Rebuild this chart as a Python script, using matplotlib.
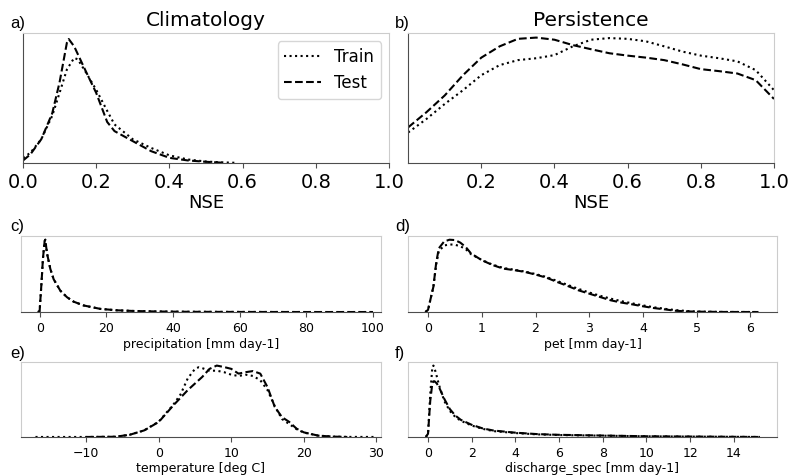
# -*- coding: utf-8 -*-
"""
NSE distributions for the two baselines (top row) and the distributions
of the forcing / target variables for train and test periods (bottom rows).
"""

import matplotlib
matplotlib.use("Agg")
import matplotlib.pyplot as plt

# --------------------------------------------------------------------------- #
# Density curves (relative units)
# --------------------------------------------------------------------------- #
clim_x_test = [0.0, 0.02, 0.05, 0.08, 0.10, 0.12, 0.125, 0.14, 0.17, 0.20,
               0.23, 0.25, 0.30, 0.35, 0.40, 0.45, 0.50, 0.55]
clim_y_test = [0.018, 0.067, 0.19, 0.40, 0.65, 0.97, 1.0, 0.94, 0.75, 0.565,
               0.33, 0.256, 0.175, 0.094, 0.04, 0.019, 0.008, 0.0]
clim_x_train = [0.0, 0.02, 0.05, 0.08, 0.10, 0.12, 0.14, 0.15, 0.17, 0.20,
                0.23, 0.25, 0.30, 0.35, 0.40, 0.45, 0.50, 0.55, 0.58]
clim_y_train = [0.04, 0.08, 0.19, 0.38, 0.565, 0.754, 0.848, 0.835, 0.74, 0.59,
                0.42, 0.31, 0.19, 0.12, 0.06, 0.027, 0.01, 0.003, 0.0]

pers_x = [0.0, 0.05, 0.10, 0.15, 0.20, 0.25, 0.30, 0.35, 0.40, 0.45, 0.50,
          0.55, 0.60, 0.65, 0.70, 0.75, 0.80, 0.85, 0.90, 0.95, 1.0]
pers_y_test = [0.283, 0.404, 0.538, 0.70, 0.84, 0.93, 0.99, 1.0, 0.983, 0.94,
               0.907, 0.875, 0.856, 0.84, 0.82, 0.786, 0.748, 0.732, 0.713,
               0.66, 0.51]
pers_y_train = [0.242, 0.35, 0.47, 0.58, 0.70, 0.78, 0.82, 0.835, 0.86, 0.93,
                0.983, 0.996, 0.99, 0.97, 0.93, 0.888, 0.856, 0.835, 0.81,
                0.74, 0.58]

prcp_x = [-0.5, 0.0, 0.5, 1.0, 1.5, 1.7, 2.2, 3.2, 4.2, 6.2, 8.2, 10.2, 13.2,
          18.2, 23.2, 28.2, 35.0, 45.0, 60.0, 80.0, 100.0]
prcp_y_train = [0.0, 0.014, 0.35, 0.72, 0.95, 0.97, 0.79, 0.58, 0.44, 0.287,
                0.199, 0.139, 0.088, 0.042, 0.023, 0.014, 0.007, 0.003,
                0.001, 0.0, 0.0]
prcp_y_test = [0.0, 0.014, 0.35, 0.72, 0.95, 0.97, 0.79, 0.58, 0.44, 0.287,
               0.199, 0.139, 0.088, 0.042, 0.023, 0.014, 0.007, 0.003,
               0.001, 0.0, 0.0]

pet_x = [-0.05, 0.0, 0.1, 0.15, 0.2, 0.3, 0.4, 0.5, 0.6, 0.7, 0.8, 1.0, 1.2,
         1.4, 1.6, 1.8, 2.0, 2.2, 2.4, 2.6, 2.8, 3.0, 3.2, 3.4, 3.6, 3.8,
         4.0, 4.2, 4.4, 4.6, 4.8, 5.0, 5.5, 6.15]
pet_y_test = [0.0, 0.03, 0.35, 0.67, 0.88, 0.976, 1.0, 0.995, 0.96, 0.90,
              0.81, 0.717, 0.65, 0.60, 0.58, 0.555, 0.518, 0.476, 0.416,
              0.36, 0.30, 0.254, 0.208, 0.162, 0.13, 0.106, 0.079, 0.055,
              0.037, 0.018, 0.009, 0.005, 0.001, 0.0]
pet_y_train = [0.0, 0.03, 0.35, 0.65, 0.84, 0.92, 0.935, 0.93, 0.91, 0.87,
               0.80, 0.72, 0.655, 0.61, 0.585, 0.56, 0.525, 0.485, 0.43,
               0.375, 0.32, 0.27, 0.225, 0.185, 0.15, 0.12, 0.092, 0.066,
               0.045, 0.027, 0.015, 0.007, 0.001, 0.0]

temp_x_test = [-10, -6, -4, -2, 0, 2, 4, 6, 7, 8, 9, 10, 11, 12, 13, 14, 15,
               16, 17, 18, 19, 20, 22, 24, 26]
temp_y_test = [0.0, 0.003, 0.03, 0.09, 0.205, 0.43, 0.64, 0.82, 0.93, 0.975,
               0.955, 0.93, 0.865, 0.885, 0.90, 0.865, 0.68, 0.41, 0.27,
               0.205, 0.114, 0.063, 0.018, 0.005, 0.0]
temp_x_train = [-17, -10, -6, -4, -2, 0, 2, 3, 4, 5, 5.5, 6, 7, 8, 9, 10, 11,
                12, 13, 14, 15, 16, 17, 18, 19, 20, 22, 24, 26, 30]
temp_y_train = [0.0, 0.0, 0.003, 0.03, 0.09, 0.21, 0.44, 0.58, 0.80, 0.93,
                0.952, 0.94, 0.905, 0.905, 0.885, 0.85, 0.833, 0.85, 0.833,
                0.775, 0.64, 0.42, 0.245, 0.175, 0.107, 0.06, 0.018, 0.005,
                0.001, 0.0]

q_x = [-0.1, 0.0, 0.1, 0.2, 0.25, 0.3, 0.4, 0.5, 0.75, 1.0, 1.25, 1.5, 2.0,
       2.5, 3.0, 4.0, 5.0, 6.0, 8.0, 10.0, 12.0, 15.2]
q_y_train = [0.0, 0.045, 0.59, 0.99, 1.0, 0.96, 0.85, 0.73, 0.50, 0.364,
             0.28, 0.227, 0.16, 0.114, 0.082, 0.055, 0.036, 0.027, 0.018,
             0.009, 0.005, 0.0]
q_y_test = [0.0, 0.045, 0.50, 0.76, 0.78, 0.78, 0.75, 0.70, 0.53, 0.39,
            0.30, 0.24, 0.17, 0.12, 0.09, 0.06, 0.04, 0.03, 0.02, 0.01,
            0.006, 0.0]

clim_ticks = [0.0, 0.2, 0.4, 0.6, 0.8, 1.0]
pers_ticks = [0.2, 0.4, 0.6, 0.8, 1.0]

DARK = "#4d4d4d"
LIGHT = "#cccccc"
LINE = dict(color="black", linewidth=1.5)


def style_axis(ax, left_dark, tick_size):
    ax.set_yticks([])
    ax.spines["top"].set_color(LIGHT)
    ax.spines["right"].set_color(LIGHT)
    ax.spines["bottom"].set_color(DARK)
    ax.spines["left"].set_color(DARK if left_dark else LIGHT)
    ax.tick_params(axis="x", labelsize=tick_size, color=DARK, length=3.5)
    ax.set_ylim(bottom=0)


fig = plt.figure(figsize=(7.91, 4.76), dpi=100)

# --------------------------------------------------------------------------- #
# Top row: NSE distributions
# --------------------------------------------------------------------------- #
ax_a = fig.add_axes([0.029, 0.658, 0.463, 0.273])
ax_a.plot(clim_x_train, clim_y_train, linestyle=":", label="Train", **LINE)
ax_a.plot(clim_x_test, clim_y_test, linestyle="--", label="Test", **LINE)
ax_a.set_xlim(0, 1)
ax_a.set_xticks(clim_ticks)
style_axis(ax_a, True, 14)
ax_a.set_xlabel("NSE", fontsize=13, labelpad=2)
ax_a.set_title("Climatology", fontsize=14.5, pad=5)
ax_a.legend(loc="upper right", fontsize=12, handlelength=2.2)

ax_b = fig.add_axes([0.516, 0.658, 0.4625, 0.273])
ax_b.plot(pers_x, pers_y_train, linestyle=":", **LINE)
ax_b.plot(pers_x, pers_y_test, linestyle="--", **LINE)
ax_b.set_xlim(0, 1)
ax_b.set_xticks(pers_ticks)
style_axis(ax_b, True, 14)
ax_b.set_xlabel("NSE", fontsize=13, labelpad=2)
ax_b.set_title("Persistence", fontsize=14.5, pad=5)

# --------------------------------------------------------------------------- #
# Input / target variable distributions
# --------------------------------------------------------------------------- #
panels = [
    ([0.0265, 0.3445, 0.4552, 0.1595], prcp_x, prcp_y_train, prcp_x, prcp_y_test,
     (-5.6, 102.4), [0, 20, 40, 60, 80, 100], "precipitation [mm day-1]"),
    ([0.516, 0.3445, 0.466, 0.1595], pet_x, pet_y_train, pet_x, pet_y_test,
     (-0.37, 6.49), [0, 1, 2, 3, 4, 5, 6], "pet [mm day-1]"),
    ([0.0265, 0.082, 0.4552, 0.1575], temp_x_train, temp_y_train,
     temp_x_test, temp_y_test, (-19.0, 30.65), [-10, 0, 10, 20, 30],
     "temperature [deg C]"),
    ([0.516, 0.082, 0.466, 0.1575], q_x, q_y_train, q_x, q_y_test,
     (-0.91, 15.97), [0, 2, 4, 6, 8, 10, 12, 14], "discharge_spec [mm day-1]"),
]

for rect, xtr, ytr, xte, yte, xlim, ticks, label in panels:
    ax = fig.add_axes(rect)
    ax.plot(xtr, ytr, linestyle=":", **LINE)
    ax.plot(xte, yte, linestyle="--", **LINE)
    ax.set_xlim(*xlim)
    ax.set_xticks(ticks)
    style_axis(ax, False, 9)
    ax.set_xlabel(label, fontsize=9, labelpad=2)

# panel letters
letters = [("a)", 10, 28), ("b)", 395, 28), ("c)", 10, 231),
           ("d)", 395, 231), ("e)", 10, 358), ("f)", 395, 358)]
for txt, px, py in letters:
    fig.text(px / 791, 1 - py / 476, txt, fontsize=12,
             family="Liberation Sans", va="baseline", ha="left")

fig.savefig("out.png", dpi=100)
plt.close()
